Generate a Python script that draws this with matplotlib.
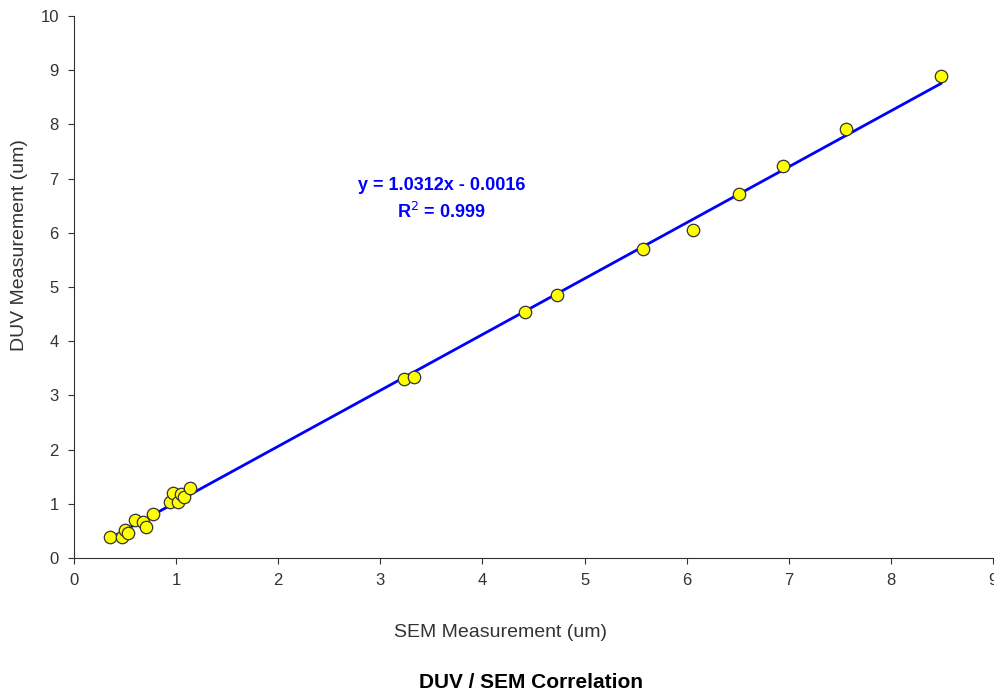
import numpy as np
import matplotlib
matplotlib.use("Agg")
import matplotlib.pyplot as plt

plt.rcParams['font.family'] = ['Liberation Sans', 'DejaVu Sans']

sem = [0.35, 0.47, 0.50, 0.53, 0.60, 0.68, 0.70, 0.77,
       0.94, 0.97, 1.02, 1.05, 1.08, 1.14,
       3.23, 3.33, 4.42, 4.73, 5.57, 6.06, 6.51, 6.94, 7.56, 8.49]
duv = [0.38, 0.39, 0.52, 0.46, 0.70, 0.66, 0.57, 0.81,
       1.04, 1.20, 1.04, 1.18, 1.13, 1.29,
       3.30, 3.33, 4.54, 4.85, 5.70, 6.06, 6.71, 7.23, 7.91, 8.89]

slope = 1.0312
intercept = -0.0016
r2 = 0.999

fig = plt.figure(figsize=(9.95, 6.94), dpi=100)
ax = fig.add_axes([0.0744, 0.196, 0.9236, 0.781])

xs = np.array([min(sem), max(sem)])
ax.plot(xs, slope * xs + intercept, color='#0000ff', lw=2, zorder=2)
ax.scatter(sem, duv, s=80, facecolor='#ffff00', edgecolor='#333333',
           linewidth=0.9, zorder=3)

ax.text(3.60, 6.88, 'y = 1.0312x - 0.0016', color='#0000ff', fontsize=13,
        fontweight='bold', ha='center', va='center')
ax.text(3.60, 6.38, 'R$^2$ = 0.999', color='#0000ff', fontsize=13,
        fontweight='bold', ha='center', va='center')

ax.set_xlim(0, 9)
ax.set_ylim(0, 10)
ax.set_xticks(range(0, 10))
ax.set_yticks(range(0, 11))
for s in ['top', 'right']:
    ax.spines[s].set_visible(False)
for s in ['left', 'bottom']:
    ax.spines[s].set_color('#333333')
ax.tick_params(direction='out', length=4, colors='#333333', labelsize=12,
               pad=7)

fig.text(0.5035, 0.0893, 'SEM Measurement (um)', fontsize=14,
         color='#333333', ha='center', va='center')
fig.text(0.020, 0.647, 'DUV Measurement (um)', fontsize=14, rotation=90,
         color='#333333', ha='center', va='center')
fig.text(0.5337, 0.0159, 'DUV / SEM Correlation', fontsize=15,
         fontweight='bold', ha='center', va='center')

fig.savefig('out.png', dpi=100)
